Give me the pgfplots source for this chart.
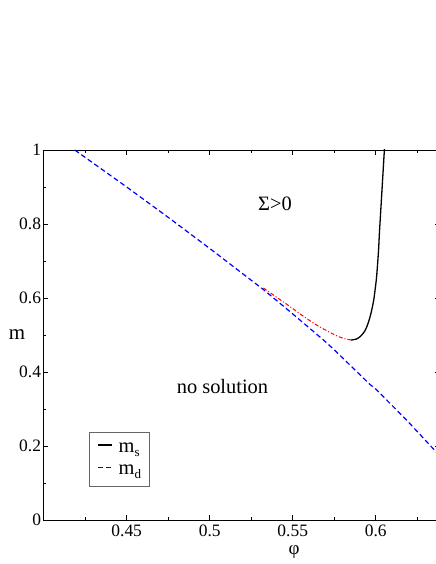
\documentclass[border=0pt]{standalone}
\usepackage{fontspec}
\setmainfont{Liberation Serif}
\usepackage{pgfplots}
\pgfplotsset{compat=1.18}
\newcommand{\bigf}{\fontsize{20.5}{22}\selectfont}
\newcommand{\sub}[1]{\raisebox{-4bp}{\fontsize{13}{13}\selectfont #1}}
\begin{document}
\begin{tikzpicture}
\path[use as bounding box, clip] (0,0) rectangle (436bp,564bp);
\begin{axis}[
  scale only axis,
  width=397bp, height=370bp,
  at={(43bp,44bp)}, anchor=south west,
  xmin=0.3996, xmax=0.6387,
  ymin=0, ymax=1,
  xtick={0.45,0.5,0.55,0.6},
  minor xtick={0.425,0.475,0.525,0.575,0.625},
  ytick={0,0.2,0.4,0.6,0.8,1},
  minor ytick={0.1,0.3,0.5,0.7,0.9},
  tick align=inside,
  major tick length=5bp, minor tick length=3bp,
  tick style={black, line width=0.7pt},
  axis line style={line width=0.9pt},
  /pgf/number format/assume math mode=true,
  every tick label/.append style={font=\fontsize{17.5}{19}\selectfont},
  xticklabel style={yshift=-1bp},
  yticklabel style={xshift=1.5bp},
  clip=true,
  legend style={at={(rel axis cs:0.1159,0.2378)}, anchor=north west,
    draw=gray!80!black, line width=0.8pt, font=\bigf,
    inner xsep=8bp, inner ysep=5bp, row sep=1.5bp, column sep=6bp,
    nodes={inner sep=0pt, text height=15bp, text depth=6bp},
    cells={anchor=west}},
  legend image code/.code={\draw[#1] (0bp,3bp) -- (14bp,3bp);},
]
\addplot[black, line width=1.3pt, smooth] coordinates {
 (0.5850,0.4865) (0.5880,0.4885) (0.5906,0.4955) (0.5930,0.508) (0.5946,0.522)
 (0.5962,0.543) (0.5976,0.568) (0.5988,0.595) (0.5996,0.622) (0.6004,0.652)
 (0.6010,0.685) (0.6017,0.730) (0.6022,0.775) (0.6028,0.820) (0.6034,0.865)
 (0.6040,0.910) (0.6046,0.955) (0.6052,1.000) (0.6055,1.02)
};
\addlegendentry{m\sub{s}}
\addplot[blue, line width=1.2pt, dash pattern=on 5bp off 3bp] coordinates {
 (0.4187,1.000) (0.430,0.964) (0.450,0.900) (0.475,0.818) (0.500,0.734)
 (0.525,0.648) (0.5323,0.623) (0.550,0.557) (0.5684,0.487) (0.575,0.460)
 (0.5966,0.366) (0.600,0.354) (0.6186,0.270) (0.625,0.239) (0.636,0.186) (0.640,0.166)
};
\addlegendentry{m\sub{d}}
\addplot[red, line width=1pt, dash pattern=on 4bp off 2bp on 1bp off 2bp, smooth, forget plot] coordinates {
 (0.5323,0.627) (0.540,0.603) (0.548,0.578) (0.556,0.552) (0.564,0.528)
 (0.572,0.508) (0.578,0.495) (0.5825,0.4885) (0.5855,0.4865)
};
\node[font=\bigf] at (axis cs:0.5393,0.855) {Σ>0};
\node[font=\bigf] at (axis cs:0.5077,0.362) {no solution};
\end{axis}
\node[font=\fontsize{21}{22}\selectfont] at (17bp,229bp) {m};
\node[font=\fontsize{19}{20}\selectfont, inner sep=0pt] at (294bp,12bp) {φ};
\end{tikzpicture}
\end{document}
